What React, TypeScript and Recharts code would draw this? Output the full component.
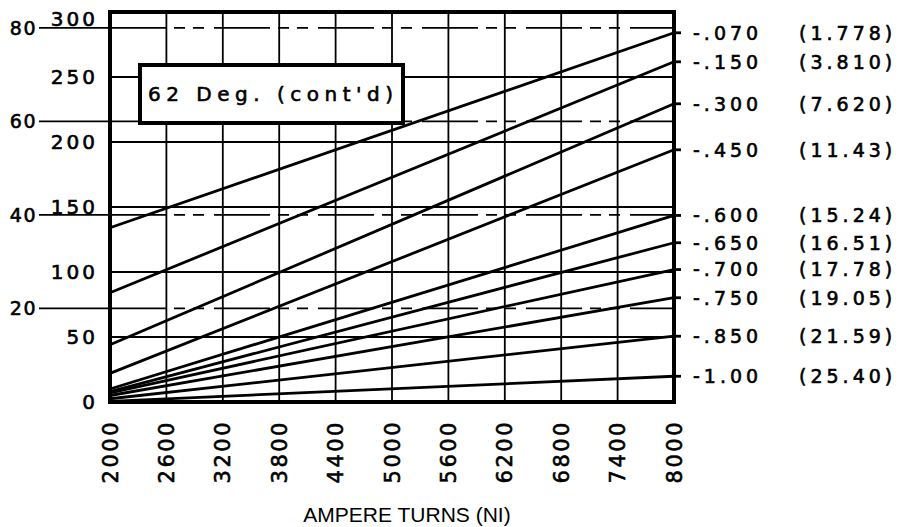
import React from 'react';
import { LineChart, Line, XAxis, YAxis, CartesianGrid, ReferenceArea } from 'recharts';

// ampere turns at the two ends of each line
const ampereTurns = [2000, 8000];

// stroke labels on the right, inches and (mm)
const strokeIn = ['.070', '.150', '.300', '.450', '.600', '.650', '.700', '.750', '.850', '1.00'];
const strokeMm = ['1.778', '3.810', '7.620', '11.43', '15.24', '16.51', '17.78', '19.05', '21.59', '25.40'];

// force in oz at NI = 2000 and NI = 8000
const forceAt2000 = [134, 84, 44, 22, 10, 8, 7, 5, 2.5, 0.5];
const forceAt8000 = [284, 261.7, 229.4, 194, 143.5, 122.5, 101.9, 80.2, 50.6, 19.8];

const ozTicks = [0, 50, 100, 150, 200, 250, 300];
const newtonTicks = [20, 40, 60, 80];
const niTicks = [2000, 2600, 3200, 3800, 4400, 5000, 5600, 6200, 6800, 7400, 8000];

const OZ_TO_N = 0.278;
const FONT = '"DejaVu Sans", sans-serif';
const DASH = '56 8 11 8 11 10';

const forceColumns = [forceAt2000, forceAt8000];
const data = ampereTurns.map((ni, i) => {
  const row: Record<string, number> = { ni };
  strokeIn.forEach((_, k) => {
    row[`s${k}`] = forceColumns[i][k];
  });
  return row;
});

const textStyle = {
  fontFamily: FONT,
  fill: '#000',
  stroke: '#000',
  strokeWidth: 0.6,
};

function OzTick({ x, y, payload }: any) {
  // top label sits right on the chart edge, nudge it so it is not clipped
  const nudge = payload.value === 300 ? 7 : 0;
  return (
    <text x={x} y={y + nudge} dy="0.36em" textAnchor="end" fontSize={20} letterSpacing={3} style={textStyle}>
      {payload.value}
    </text>
  );
}

function NiTick({ x, y, payload }: any) {
  return (
    <text
      x={x}
      y={y}
      transform={`rotate(-90, ${x}, ${y})`}
      textAnchor="end"
      dy="0.36em"
      fontSize={21}
      letterSpacing={2.5}
      style={textStyle}
    >
      {payload.value}
    </text>
  );
}

function StrokeTick({ x, y, payload }: any) {
  const k = forceAt8000.indexOf(payload.value);
  return (
    <text x={x} y={y} dy="0.36em" fontSize={19} letterSpacing={4} style={textStyle}>
      <tspan>{`-${strokeIn[k]}`}</tspan>
      <tspan x={x + 106}>{`(${strokeMm[k]})`}</tspan>
    </text>
  );
}

export default function App() {
  return (
    <div style={{ position: 'relative', width: 892, height: 519 }}>
      <LineChart width={892} height={519} data={data} margin={{ top: 4, right: 0, bottom: 0, left: 0 }}>
        <CartesianGrid yAxisId="oz" stroke="#000" strokeWidth={1.8} verticalValues={niTicks} />
        <CartesianGrid yAxisId="n" stroke="#000" strokeWidth={1.8} strokeDasharray={DASH} vertical={false} />
        <XAxis
          dataKey="ni"
          type="number"
          domain={[2000, 8000]}
          ticks={niTicks}
          interval={0}
          height={125}
          tickSize={0}
          tickMargin={18}
          axisLine={false}
          tick={<NiTick />}
          label={{
            value: 'AMPERE TURNS (NI)',
            position: 'insideBottom',
            offset: 5,
            dx: 15,
            style: { fontFamily: '"Liberation Sans", Arial, sans-serif', fontSize: 21, fill: '#000' },
          }}
        />
        <YAxis
          yAxisId="n"
          type="number"
          orientation="left"
          domain={[0, 300 * OZ_TO_N]}
          allowDataOverflow
          ticks={newtonTicks}
          interval={0}
          width={1}
          tickSize={71}
          tickMargin={2}
          axisLine={false}
          tickLine={{ stroke: '#000', strokeWidth: 1.8 }}
          tick={{ fontSize: 19, letterSpacing: 1.5, ...textStyle }}
        />
        <YAxis
          yAxisId="oz"
          type="number"
          orientation="left"
          domain={[0, 300]}
          allowDataOverflow
          ticks={ozTicks}
          interval={0}
          width={101}
          tickSize={0}
          tickMargin={11}
          axisLine={false}
          tick={<OzTick />}
        />
        <YAxis
          yAxisId="right"
          type="number"
          orientation="right"
          domain={[0, 300]}
          allowDataOverflow
          ticks={forceAt8000}
          interval={0}
          width={226}
          tickSize={7}
          tickMargin={12}
          axisLine={false}
          tickLine={{ stroke: '#000', strokeWidth: 2.8 }}
          tick={<StrokeTick />}
        />
        <ReferenceArea
          yAxisId="oz"
          x1={2000}
          x2={8000}
          y1={0}
          y2={300}
          fill="none"
          fillOpacity={0}
          stroke="#000"
          strokeWidth={4}
        />
        {strokeIn.map((s, k) => (
          <Line
            key={s}
            yAxisId="oz"
            dataKey={`s${k}`}
            type="linear"
            stroke="#000"
            strokeWidth={2.8}
            dot={false}
            activeDot={false}
            isAnimationActive={false}
          />
        ))}
      </LineChart>
      <div
        style={{
          position: 'absolute',
          left: 130,
          top: 55,
          width: 267,
          height: 62,
          boxSizing: 'border-box',
          border: '4px solid #000',
          background: '#fff',
          display: 'flex',
          alignItems: 'center',
          paddingLeft: 6,
          fontFamily: FONT,
          fontSize: 20,
          letterSpacing: 5.5,
          WebkitTextStroke: '0.6px #000',
          whiteSpace: 'nowrap',
        }}
      >
        62 Deg. (cont'd)
      </div>
    </div>
  );
}
